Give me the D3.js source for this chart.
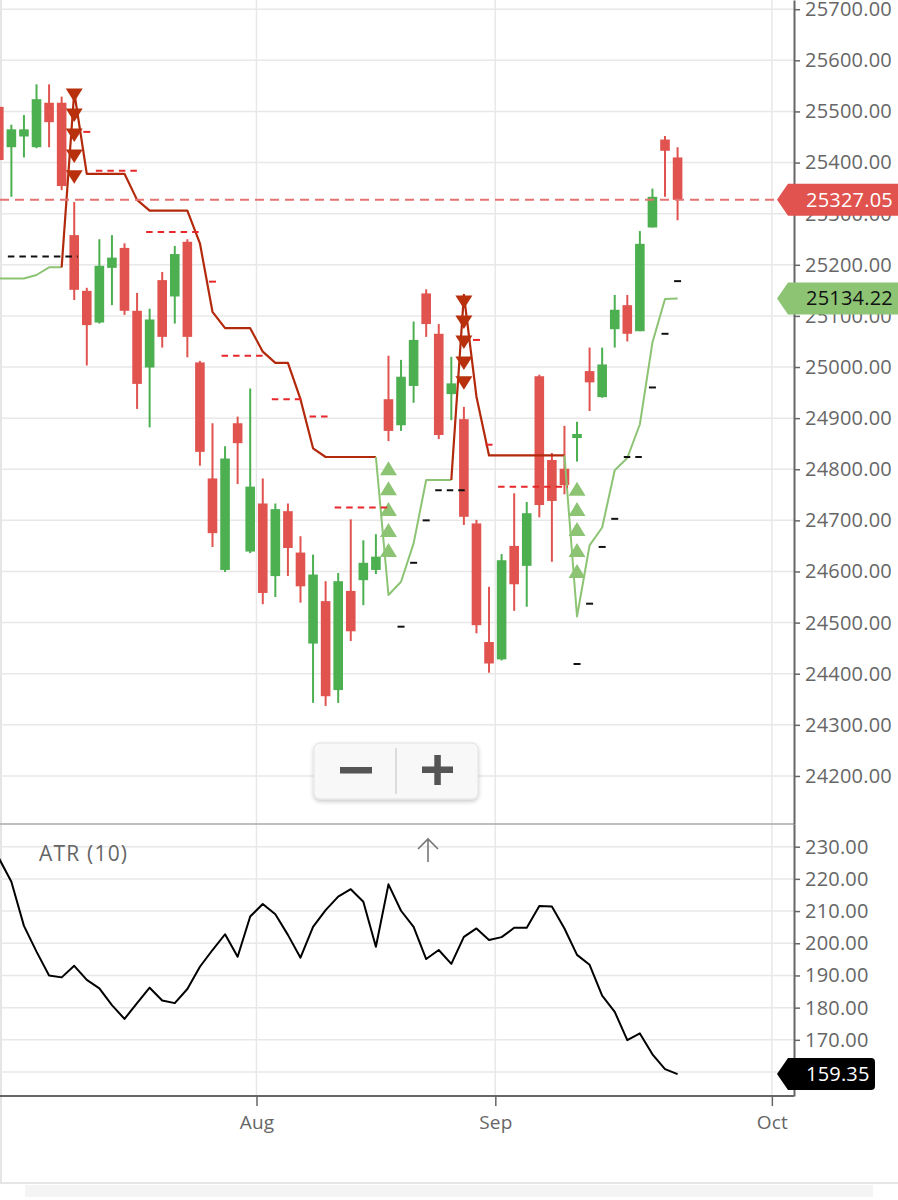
<!DOCTYPE html>
<html><head><meta charset="utf-8">
<script src="https://cdn.jsdelivr.net/npm/d3@7/dist/d3.min.js"></script>
<style>
body{margin:0;background:#fff;}
svg{display:block;font-family:"Open Sans",sans-serif;}
</style>
</head><body>
<svg id="chart" width="898" height="1200"></svg>
<script>
// ---------- DATA ----------
const dates = ["2025-07-03","2025-07-04","2025-07-07","2025-07-08","2025-07-09","2025-07-10","2025-07-11",
"2025-07-14","2025-07-15","2025-07-16","2025-07-17","2025-07-18","2025-07-21","2025-07-22","2025-07-23","2025-07-24","2025-07-25",
"2025-07-28","2025-07-29","2025-07-30","2025-07-31","2025-08-01","2025-08-04","2025-08-05","2025-08-06","2025-08-07","2025-08-08",
"2025-08-11","2025-08-12","2025-08-13","2025-08-14","2025-08-18","2025-08-19","2025-08-20","2025-08-21","2025-08-22",
"2025-08-25","2025-08-26","2025-08-28","2025-08-29","2025-09-01","2025-09-02","2025-09-03","2025-09-04","2025-09-05",
"2025-09-08","2025-09-09","2025-09-10","2025-09-11","2025-09-12","2025-09-15","2025-09-16","2025-09-17","2025-09-18","2025-09-19"];
const futureDates = ["2025-09-22","2025-09-23","2025-09-24","2025-09-25","2025-09-26","2025-09-29","2025-09-30","2025-10-01"];

const openP  = [25509,25430,25451,25430,25517,25517,25258,25149,25087,25194,25233,25110,24999,25170,25138,25245,25009,24782,24603,24890,24639,
24733,24591,24718,24637,24459,24542,24368,24562,24583,24603,24937,24886,24963,25144,25065,24947,24898,24694,24462,
24428,24650,24611,24982,24818,24801,24861,24992,24941,25074,25121,25070,25273,25445,25410];
const highP  = [25533,25474,25493,25553,25553,25529,25323,25155,25250,25258,25242,25145,25114,25186,25237,25250,25012,24890,24845,24903,24958,
24782,24733,24733,24669,24633,24581,24597,24702,24661,24673,25022,25014,25089,25152,25084,25020,24922,24701,24570,
24634,24753,24736,24985,24832,24885,24893,25038,25038,25141,25141,25266,25349,25452,25430];
const lowP   = [25400,25333,25410,25428,25430,25346,25131,25003,25085,25121,25102,24918,24882,25038,25085,25019,24807,24648,24599,24771,24636,
24536,24550,24591,24539,24343,24337,24343,24464,24534,24595,24855,24875,24930,25059,24859,24896,24691,24479,24402,
24426,24523,24531,24706,24619,24751,24815,24914,24940,25038,25050,25070,25273,25333,25287];
const closeP = [25405,25465,25465,25524,25479,25354,25151,25082,25198,25214,25110,24967,25093,25059,25221,25059,24834,24675,24821,24851,24766,
24558,24722,24646,24571,24594,24356,24581,24483,24617,24629,24875,24981,25053,25084,24867,24968,24707,24495,24420,
24622,24575,24714,24730,24738,24769,24869,24970,25005,25112,25065,25241,25333,25423,25327.05];

// SuperTrend line value and direction (1 = up / support, -1 = down / resistance)
const stValue = [25173,25173,25173,25180,25195,25195,25538,25378,25378,25378,25378,25327,25306,25306,25306,25306,25242,25108,25076,25076,25076,
25030,25008,25008,24937,24841,24824,24824,24824,24824,24824,24554,24580,24655,24779,24779,24779,25141,24942,24827,
24827,24827,24827,24827,24827,24827,24512,24651,24686,24798,24822,24888,25048,25133,25134.22];
const stTrend = [1,1,1,1,1,1,-1,-1,-1,-1,-1,-1,-1,-1,-1,-1,-1,-1,-1,-1,-1,
-1,-1,-1,-1,-1,-1,-1,-1,-1,-1,1,1,1,1,1,1,-1,-1,-1,
-1,-1,-1,-1,-1,-1,1,1,1,1,1,1,1,1,1];

// short dashed level markers
const sellLevels = [null,null,null,null,null,null,null,25460,25384,25384,25384,25384,25264,25264,25264,25264,25264,25167,25022,25022,25022,
25022,24937,24937,24937,24903,24903,24725,24725,24725,24725,24725,null,null,null,null,null,null,25053,24848,
24766,24766,24766,24766,24766,24766,null,null,null,null,null,null,null,null,null];
const buyLevels = [null,25216,25216,25216,25216,25216,25216,null,null,null,null,null,null,null,null,null,null,null,null,null,null,
null,null,null,null,null,null,null,null,null,null,null,24492,24617,24700,24759,24759,24759,null,null,
null,null,null,null,null,null,24419,24537,24648,24703,24824,24824,24960,25065,25168];

// signal markers (stacked triangles)
const sellSignalIdx = [6, 37];
const sellSignalPrices = [[25532,25493,25454,25413,25372],[25127,25088,25049,25008,24969]];
const buySignalIdx = [31, 46];
const buySignalPrices = [[24802,24763,24722,24681,24642],[24762,24722,24683,24642,24601]];

const atr = [226.5,219.1,205.4,197.4,190.0,189.4,193.0,188.6,186.0,180.8,176.5,181.4,186.2,182.2,181.4,185.8,192.7,197.9,202.8,195.8,208.3,
212.2,209.0,202.6,195.5,205.1,210.3,214.5,216.8,212.9,198.9,218.3,210.1,205.1,195.1,197.9,193.6,202.0,204.6,201.0,
201.9,204.8,204.8,211.6,211.4,204.6,196.4,193.3,183.7,178.7,169.9,172.0,165.5,160.9,159.35];

const priceTicks = [24200,24300,24400,24500,24600,24700,24800,24900,25000,25100,25200,25300,25400,25500,25600,25700];
const atrTicks = [170,180,190,200,210,220,230];
const monthNames = ["Jan","Feb","Mar","Apr","May","Jun","Jul","Aug","Sep","Oct","Nov","Dec"];
const lastPrice = 25327.05;
const lastST = 25134.22;
const lastATR = 159.35;
const atrTitle = "ATR (10)";

// ---------- LAYOUT ----------
const W = 898, H = 1200;
const plotRight = 794;
const mainTop = 0, mainBottom = 824, atrTop = 824, atrBottom = 1096;
const upColor = "#4caf50", downColor = "#e0534f";
const stUpColor = "#8cc474", stDownColor = "#b3290b";
const axisColor = "#666", gridColor = "#e8e8e8";
const labelFont = 20;

const allDates = dates.concat(futureDates);
const x = d3.scaleLinear().domain([0, allDates.length - 1]).range([-1.2, -1.2 + 12.57 * (allDates.length - 1)]);
const y = d3.scaleLinear().domain([24106, 25718]).range([mainBottom, mainTop]);
const ya = d3.scaleLinear().domain([152.55, 237.05]).range([atrBottom, atrTop]);

const svg = d3.select("#chart");
const defs = svg.append("defs");
defs.append("clipPath").attr("id","clipMain").append("rect").attr("x",0).attr("y",mainTop).attr("width",plotRight).attr("height",mainBottom-mainTop);
defs.append("clipPath").attr("id","clipAtr").append("rect").attr("x",0).attr("y",atrTop).attr("width",plotRight).attr("height",atrBottom-atrTop);
const flt = defs.append("filter").attr("id","shadow").attr("x","-20%").attr("y","-30%").attr("width","140%").attr("height","170%");
flt.append("feDropShadow").attr("dx",0).attr("dy",2).attr("stdDeviation",2).attr("flood-color","#000").attr("flood-opacity",0.22);

svg.append("rect").attr("width",W).attr("height",H).attr("fill","#fff");

// card shadow + border
svg.append("rect").attr("x",25).attr("y",1185).attr("width",848).attr("height",12).attr("fill","#f4f4f4");
svg.append("line").attr("x1",0).attr("x2",W).attr("y1",1183).attr("y2",1183).attr("stroke","#dcdcdc").attr("stroke-width",1.5);
svg.append("line").attr("x1",1).attr("x2",1).attr("y1",0).attr("y2",1183).attr("stroke","#dcdcdc").attr("stroke-width",1.5);

// month ticks from dates
const monthTicks = [];
for (let i = 1; i < allDates.length; i++) {
  const m0 = +allDates[i-1].slice(5,7), m1 = +allDates[i].slice(5,7);
  if (m0 !== m1) monthTicks.push({pos: i - 0.5, label: monthNames[m1-1]});
}

// ---------- GRID ----------
const grid = svg.append("g");
grid.selectAll(".hg").data(priceTicks).join("line")
  .attr("x1",0).attr("x2",plotRight).attr("y1",d=>y(d)).attr("y2",d=>y(d))
  .attr("stroke",gridColor).attr("stroke-width",1.5);
grid.selectAll(".ag").data(atrTicks.concat([160])).join("line")
  .attr("x1",0).attr("x2",plotRight).attr("y1",d=>ya(d)).attr("y2",d=>ya(d))
  .attr("stroke",gridColor).attr("stroke-width",1.5);
grid.selectAll(".vg").data(monthTicks).join("line")
  .attr("x1",d=>x(d.pos)).attr("x2",d=>x(d.pos)).attr("y1",0).attr("y2",atrBottom)
  .attr("stroke",gridColor).attr("stroke-width",1.5);

// ---------- MAIN PANEL ----------
const main = svg.append("g").attr("clip-path","url(#clipMain)");
const idx = d3.range(dates.length);

// candles
const cg = main.append("g");
cg.selectAll("line.wick").data(idx).join("line").attr("class","wick")
  .attr("x1",i=>x(i)).attr("x2",i=>x(i)).attr("y1",i=>y(highP[i])).attr("y2",i=>y(lowP[i]))
  .attr("stroke",i=>closeP[i]>=openP[i]?upColor:downColor).attr("stroke-width",2);
cg.selectAll("rect.body").data(idx).join("rect").attr("class","body")
  .attr("x",i=>x(i)-4.8).attr("width",9.6)
  .attr("y",i=>y(Math.max(openP[i],closeP[i])))
  .attr("height",i=>Math.max(1.5, Math.abs(y(openP[i])-y(closeP[i]))))
  .attr("fill",i=>closeP[i]>=openP[i]?upColor:downColor);

// supertrend line, segment coloured by trend of its end point
const lineGen = d3.line().x(i=>x(i)).y(i=>y(stValue[i]));
let s = 0;
while (s < stTrend.length) {
  let e = s;
  while (e + 1 < stTrend.length && stTrend[e+1] === stTrend[s]) e++;
  const pts = d3.range(Math.max(0, s-1), e+1);
  main.append("path").datum(pts).attr("d", lineGen).attr("fill","none")
    .attr("stroke", stTrend[s] > 0 ? stUpColor : stDownColor)
    .attr("stroke-width", stTrend[s] > 0 ? 2 : 2.2).attr("stroke-linejoin","round");
  s = e + 1;
}

// signal triangles
const tri = main.append("g");
sellSignalIdx.forEach((i,k)=>{
  sellSignalPrices[k].forEach(p=>{
    const cx = x(i), cy = y(p);
    tri.append("path").attr("d",`M${cx-8.5},${cy-6.5}L${cx+8.5},${cy-6.5}L${cx},${cy+7}Z`).attr("fill","#b8300c");
  });
});
buySignalIdx.forEach((i,k)=>{
  buySignalPrices[k].forEach(p=>{
    const cx = x(i), cy = y(p);
    tri.append("path").attr("d",`M${cx-8.5},${cy+7}L${cx+8.5},${cy+7}L${cx},${cy-7}Z`).attr("fill","#8cc474");
  });
});

// level dashes
function drawLevels(levels, color) {
  let i = 0;
  while (i < levels.length) {
    if (levels[i] == null) { i++; continue; }
    let j = i;
    while (j + 1 < levels.length && levels[j+1] === levels[i]) j++;
    main.append("line").attr("x1",x(i)-3.5).attr("x2",x(j)+3.5)
      .attr("y1",y(levels[i])).attr("y2",y(levels[i]))
      .attr("stroke",color).attr("stroke-width",2)
      .attr("stroke-dasharray", i===j ? null : "6.5,5");
    i = j + 1;
  }
}
drawLevels(sellLevels, "#e8272b");
drawLevels(buyLevels, "#111");

// last price line
svg.append("line").attr("x1",0).attr("x2",778).attr("y1",y(lastPrice)).attr("y2",y(lastPrice))
  .attr("stroke","#e57373").attr("stroke-width",2).attr("stroke-dasharray","9,6");

// ---------- ATR PANEL ----------
const atrG = svg.append("g").attr("clip-path","url(#clipAtr)");
atrG.append("path").datum(idx).attr("d", d3.line().x(i=>x(i)).y(i=>ya(atr[i])))
  .attr("fill","none").attr("stroke","#000").attr("stroke-width",2).attr("stroke-linejoin","round");

svg.append("text").attr("x",39).attr("y",861).text(atrTitle)
  .attr("font-size",21).attr("fill","#666").style("letter-spacing","1.2px");

// small arrow
svg.append("path").attr("d","M428,862L428,839M418,849L428,839L438,849")
  .attr("fill","none").attr("stroke","#777").attr("stroke-width",1.6);

// separator
svg.append("line").attr("x1",0).attr("x2",plotRight).attr("y1",mainBottom).attr("y2",mainBottom)
  .attr("stroke","#aaa").attr("stroke-width",1.5);

// ---------- AXES ----------
function styleAxis(g){
  g.attr("font-family",null).attr("font-size",null);
  g.selectAll("text").attr("fill","#666").attr("font-size",labelFont).style("letter-spacing","0.2px");
  g.selectAll("line").attr("stroke",axisColor).attr("stroke-width",1.5);
  g.select(".domain").attr("stroke",axisColor).attr("stroke-width",2);
}
const yAxis = d3.axisRight(y).tickValues(priceTicks).tickFormat(d3.format(".2f")).tickSize(6).tickSizeOuter(0).tickPadding(5);
svg.append("g").attr("transform",`translate(${plotRight},0)`).call(yAxis).call(styleAxis);

const aAxis = d3.axisRight(ya).tickValues(atrTicks).tickFormat(d3.format(".2f")).tickSize(6).tickSizeOuter(0).tickPadding(5);
svg.append("g").attr("transform",`translate(${plotRight},0)`).call(aAxis).call(styleAxis);

const xAxis = d3.axisBottom(x).tickValues(monthTicks.map(d=>d.pos))
  .tickFormat((d,k)=>monthTicks[k].label).tickSize(10).tickSizeOuter(0).tickPadding(10);
const xg = svg.append("g").attr("transform",`translate(0,${atrBottom})`).call(xAxis).call(styleAxis);
xg.selectAll("text").attr("font-size",19);
xg.select(".domain").attr("d",`M0,0H${plotRight}`);

// ---------- VALUE LABELS ----------
function tagLabel(cy, text, fill, textColor, right) {
  const g = svg.append("g");
  const h = 16;
  g.append("path").attr("d",
    `M777,${cy}L788,${cy-h}H${right-4}Q${right},${cy-h} ${right},${cy-h+4}V${cy+h-4}Q${right},${cy+h} ${right-4},${cy+h}H788Z`)
    .attr("fill",fill);
  g.append("text").attr("x",806).attr("y",cy+7).text(text)
    .attr("fill",textColor).attr("font-size",labelFont).style("letter-spacing","0.2px");
}
tagLabel(y(lastPrice), d3.format(".2f")(lastPrice), "#e0534f", "#fff", 904);
tagLabel(y(lastST), d3.format(".2f")(lastST), "#8cc474", "#111", 904);
tagLabel(ya(lastATR), d3.format(".2f")(lastATR), "#000", "#fff", 875);

// ---------- ZOOM BUTTONS ----------
const zb = svg.append("g");
zb.append("rect").attr("x",314).attr("y",743).attr("width",164).attr("height",56).attr("rx",6)
  .attr("fill","#f8f8f8").attr("stroke","#e2e2e2").attr("filter","url(#shadow)");
zb.append("line").attr("x1",396).attr("x2",396).attr("y1",748).attr("y2",794).attr("stroke","#dcdcdc").attr("stroke-width",2);
zb.append("rect").attr("x",340).attr("y",767).attr("width",32).attr("height",6.5).attr("fill","#555");
zb.append("rect").attr("x",422).attr("y",766.5).attr("width",31).attr("height",6.5).attr("fill","#555");
zb.append("rect").attr("x",434.3).attr("y",755).attr("width",6.5).attr("height",30).attr("fill","#555");
</script>
</body></html>
